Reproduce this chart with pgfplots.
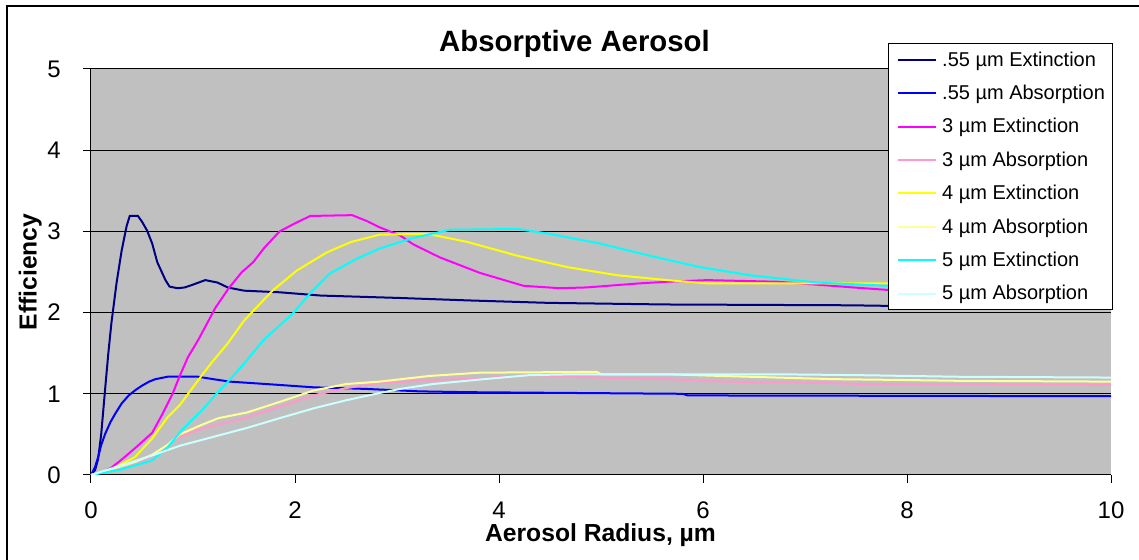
\documentclass[border=0pt]{standalone}
\usepackage{fontspec}
\setmainfont{Liberation Sans}
\usepackage{pgfplots}
\pgfplotsset{compat=1.18}
\definecolor{xlnavy}{HTML}{000080}
\definecolor{xlblue}{HTML}{0000FF}
\definecolor{xlmagenta}{HTML}{FF00FF}
\definecolor{xlpink}{HTML}{FF99CC}
\definecolor{xlyellow}{HTML}{FFFF00}
\definecolor{xllightyellow}{HTML}{FFFF99}
\definecolor{xlcyan}{HTML}{00FFFF}
\definecolor{xllightturq}{HTML}{CCFFFF}
\definecolor{plotgray}{HTML}{C0C0C0}
\begin{document}
\begin{tikzpicture}
\path[use as bounding box] (0,0) rectangle (854.25pt,420pt);
\draw[line width=0.9pt] (5.25pt,0) -- (5.25pt,415.5pt) -- (854.25pt,415.5pt);
\begin{axis}[
at={(68.25pt,63.75pt)}, anchor=south west,
scale only axis, width=765pt, height=304.5pt,
xmin=0, xmax=10, ymin=0, ymax=5,
xtick={0,2,4,6,8,10}, ytick={0,1,2,3,4,5},
axis background/.style={fill=plotgray},
axis x line*=bottom, axis y line*=left,
axis line style={line width=0.75pt, black},
tick align=outside, major tick length=6pt,
tick style={line width=0.75pt, black},
ymajorgrids, grid style={line width=0.75pt, black},
/pgf/number format/assume math mode=true,
ticklabel style={font=\fontsize{18}{21}\selectfont},
yticklabel style={inner sep=0pt, anchor=east},
yticklabel={\pgfmathprintnumber{\tick}\hspace*{16.5pt}},
xticklabel style={inner sep=0pt, anchor=north, yshift=-13.9pt},
title={Absorptive Aerosol},
title style={font=\fontsize{22}{26}\selectfont\bfseries, at={(axis description cs:0.474,1.0229)}, anchor=base},
xlabel={Aerosol Radius, µm},
xlabel style={font=\fontsize{18.5}{22}\selectfont\bfseries, at={(axis description cs:0.4995,-0.1650)}, anchor=base},
ylabel={Efficiency},
ylabel style={font=\fontsize{18.5}{22}\selectfont\bfseries, at={(axis description cs:-0.0532,0.5)}, anchor=base, rotate=0},
legend style={at={(axis description cs:0.7814,1.064)}, anchor=north west,
  draw=black, line width=0.75pt, fill=white,
  font=\fontsize{15}{18}\selectfont,
  inner xsep=6pt, inner ysep=6pt, row sep=12.7pt,
  nodes={inner sep=0pt},
  /tikz/every odd column/.append style={column sep=3.75pt}},
legend cell align=left,
legend image code/.code={\draw[#1, line width=1.5pt] (0pt,0pt) -- (29pt,0pt);},
every axis plot/.append style={line width=1.5pt},
]
\addplot[xlnavy] coordinates {(0,0) (0.04,0.06) (0.07,0.2) (0.1,0.5) (0.14,1.08) (0.17,1.5) (0.2,1.87) (0.25,2.36) (0.3,2.76) (0.35,3.07) (0.38,3.19) (0.46,3.19) (0.5,3.12) (0.55,3.01) (0.6,2.85) (0.65,2.62) (0.73,2.40) (0.77,2.32) (0.85,2.30) (0.92,2.31) (0.99,2.34) (1.12,2.40) (1.24,2.37) (1.34,2.31) (1.5,2.27) (1.85,2.25) (2.25,2.21) (3.03,2.18) (3.7,2.15) (4.48,2.12) (5.63,2.10) (7.44,2.09) (8.5,2.07) (10,2.05)};
\addlegendentry{.55 µm Extinction}
\addplot[xlblue] coordinates {(0,0) (0.04,0.1) (0.07,0.22) (0.1,0.37) (0.14,0.51) (0.19,0.65) (0.24,0.76) (0.3,0.88) (0.37,0.98) (0.44,1.05) (0.5,1.1) (0.57,1.15) (0.63,1.18) (0.75,1.21) (1.05,1.21) (1.2,1.18) (1.36,1.15) (1.72,1.12) (2.18,1.08) (2.7,1.06) (3.22,1.03) (3.69,1.02) (5.8,1.0) (5.85,0.98) (10,0.97)};
\addlegendentry{.55 µm Absorption}
\addplot[xlmagenta] coordinates {(0,0) (0.1,0.03) (0.2,0.09) (0.31,0.2) (0.45,0.35) (0.6,0.52) (0.7,0.75) (0.8,1.0) (0.87,1.22) (0.95,1.45) (1.05,1.66) (1.22,2.06) (1.35,2.3) (1.48,2.5) (1.59,2.62) (1.7,2.8) (1.85,3.0) (2.0,3.1) (2.15,3.19) (2.56,3.2) (2.7,3.13) (2.83,3.05) (3.03,2.95) (3.16,2.84) (3.42,2.68) (3.81,2.49) (4.24,2.33) (4.6,2.30) (4.86,2.31) (5.38,2.36) (5.65,2.38) (6.04,2.40) (6.73,2.38) (6.95,2.36) (7.47,2.31) (7.8,2.28) (8.5,2.26) (10,2.22)};
\addlegendentry{3 µm Extinction}
\addplot[xlpink] coordinates {(0,0) (0.2,0.07) (0.43,0.15) (0.6,0.23) (0.87,0.47) (1.09,0.57) (1.53,0.71) (1.85,0.84) (2.18,0.98) (2.5,1.07) (2.83,1.13) (3.32,1.17) (3.81,1.19) (4.33,1.23) (4.99,1.2) (5.65,1.18) (6.2,1.15) (6.85,1.14) (7.64,1.12) (8.5,1.12) (10,1.11)};
\addlegendentry{3 µm Absorption}
\addplot[xlyellow] coordinates {(0,0) (0.2,0.07) (0.43,0.22) (0.6,0.45) (0.75,0.71) (0.87,0.86) (1.07,1.2) (1.18,1.38) (1.34,1.62) (1.5,1.9) (1.65,2.1) (1.78,2.27) (2.02,2.52) (2.31,2.74) (2.55,2.87) (2.83,2.96) (3.3,2.97) (3.69,2.87) (4.18,2.70) (4.67,2.56) (5.16,2.46) (5.65,2.40) (6.04,2.36) (7.8,2.36) (10,2.33)};
\addlegendentry{4 µm Extinction}
\addplot[xllightyellow] coordinates {(0,0) (0.2,0.07) (0.43,0.16) (0.6,0.25) (0.75,0.37) (0.87,0.5) (1.09,0.62) (1.25,0.7) (1.53,0.77) (1.85,0.9) (2.18,1.04) (2.5,1.12) (2.83,1.15) (3.32,1.22) (3.81,1.26) (4.96,1.27) (5.0,1.24) (5.65,1.24) (6.17,1.22) (6.73,1.20) (7.3,1.18) (7.96,1.17) (8.5,1.16) (10,1.15)};
\addlegendentry{4 µm Absorption}
\addplot[xlcyan] coordinates {(0,0) (0.3,0.07) (0.6,0.18) (0.75,0.34) (0.87,0.52) (0.92,0.59) (1.09,0.8) (1.23,1.0) (1.38,1.2) (1.5,1.37) (1.69,1.66) (1.98,1.99) (2.15,2.24) (2.34,2.48) (2.6,2.66) (2.83,2.79) (3.16,2.92) (3.52,3.02) (4.18,3.03) (4.5,2.97) (4.99,2.85) (5.48,2.70) (5.97,2.56) (6.46,2.46) (7.12,2.37) (7.8,2.33) (10,2.30)};
\addlegendentry{5 µm Extinction}
\addplot[xllightturq] coordinates {(0,0) (0.3,0.12) (0.6,0.24) (0.87,0.36) (1.2,0.47) (1.53,0.58) (1.85,0.7) (2.18,0.82) (2.5,0.92) (2.83,1.01) (3.03,1.06) (3.35,1.12) (3.85,1.18) (4.3,1.23) (4.73,1.24) (6.75,1.24) (7.5,1.23) (8.5,1.21) (10,1.2)};
\addlegendentry{5 µm Absorption}
\end{axis}
\end{tikzpicture}
\end{document}
